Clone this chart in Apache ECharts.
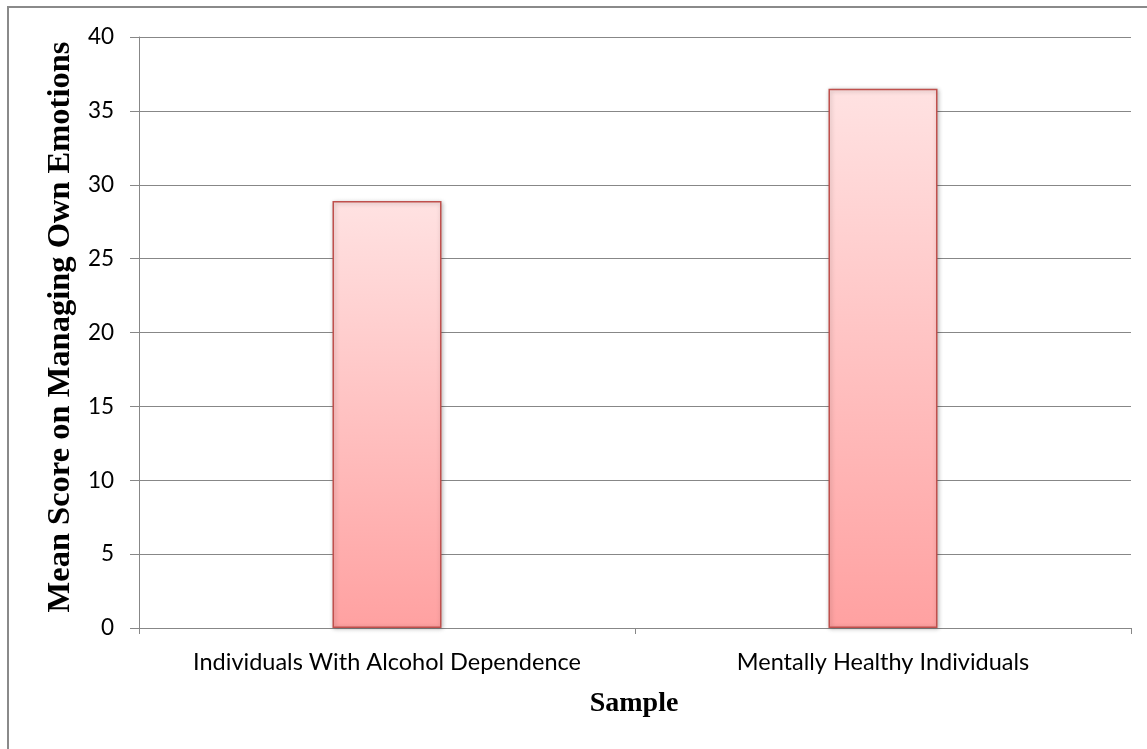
<!DOCTYPE html>
<html>
<head>
<meta charset="utf-8">
<script src="https://cdn.jsdelivr.net/npm/echarts@6/dist/echarts.min.js"></script>
<style>
  html, body { margin: 0; padding: 0; background: #fff; }
  #chart { width: 1147px; height: 749px; }
</style>
</head>
<body>
<div id="chart"></div>
<script>
// Mean score on managing own emotions, by sample group
const categories = ['Individuals With Alcohol Dependence', 'Mentally Healthy Individuals'];
const meanScores = [28.9, 36.5];
const yTicks = { min: 0, max: 40, interval: 5 };
const yTitle = 'Mean Score on Managing Own Emotions';
const xTitle = 'Sample';

const chart = echarts.init(document.getElementById('chart'), null, { renderer: 'canvas' });

const gridColor = '#878787';
const labelFont = 'Lato, "Open Sans", sans-serif';
const titleFont = '"Liberation Serif", "DejaVu Serif", serif';

chart.setOption({
  animation: false,
  backgroundColor: '#ffffff',
  grid: { left: 139, right: 16, top: 37, bottom: 121, containLabel: false },
  xAxis: {
    type: 'category',
    data: categories,
    boundaryGap: true,
    axisLine: { lineStyle: { color: gridColor, width: 1 } },
    axisTick: { show: true, length: 6, lineStyle: { color: gridColor } },
    axisLabel: {
      color: '#000', fontFamily: labelFont, fontSize: 23.5, margin: 22,
      interval: 0, hideOverlap: false
    },
    splitLine: { show: false }
  },
  yAxis: {
    type: 'value',
    min: yTicks.min,
    max: yTicks.max,
    interval: yTicks.interval,
    axisLine: { show: true, lineStyle: { color: gridColor, width: 1 } },
    axisTick: { show: true, length: 9, lineStyle: { color: gridColor } },
    axisLabel: { color: '#000', fontFamily: labelFont, fontSize: 22.5, margin: 25 },
    splitLine: { show: true, lineStyle: { color: gridColor, width: 1 } }
  },
  series: [{
    type: 'bar',
    data: meanScores,
    barWidth: 109,
    itemStyle: {
      color: new echarts.graphic.LinearGradient(0, 0, 0, 1, [
        { offset: 0, color: '#FFE2E2' },
        { offset: 1, color: '#FFA1A1' }
      ]),
      borderColor: '#C0504D',
      borderWidth: 1.5,
      shadowColor: 'rgba(0,0,0,0.25)',
      shadowBlur: 4,
      shadowOffsetX: 1,
      shadowOffsetY: 1
    }
  }],
  graphic: [
    {
      type: 'rect',
      silent: true,
      shape: { x: 8, y: 7, width: 1300, height: 900 },
      style: { fill: 'none', stroke: '#8a8a8a', lineWidth: 2 }
    },
    {
      type: 'text',
      x: 61,
      y: 327,
      rotation: Math.PI / 2,
      style: {
        text: yTitle,
        font: 'bold 32.5px ' + titleFont,
        fill: '#000',
        align: 'center',
        verticalAlign: 'middle'
      }
    },
    {
      type: 'text',
      x: 634,
      y: 704,
      style: {
        text: xTitle,
        font: 'bold 28px ' + titleFont,
        fill: '#000',
        align: 'center',
        verticalAlign: 'middle'
      }
    }
  ]
});
</script>
</body>
</html>
